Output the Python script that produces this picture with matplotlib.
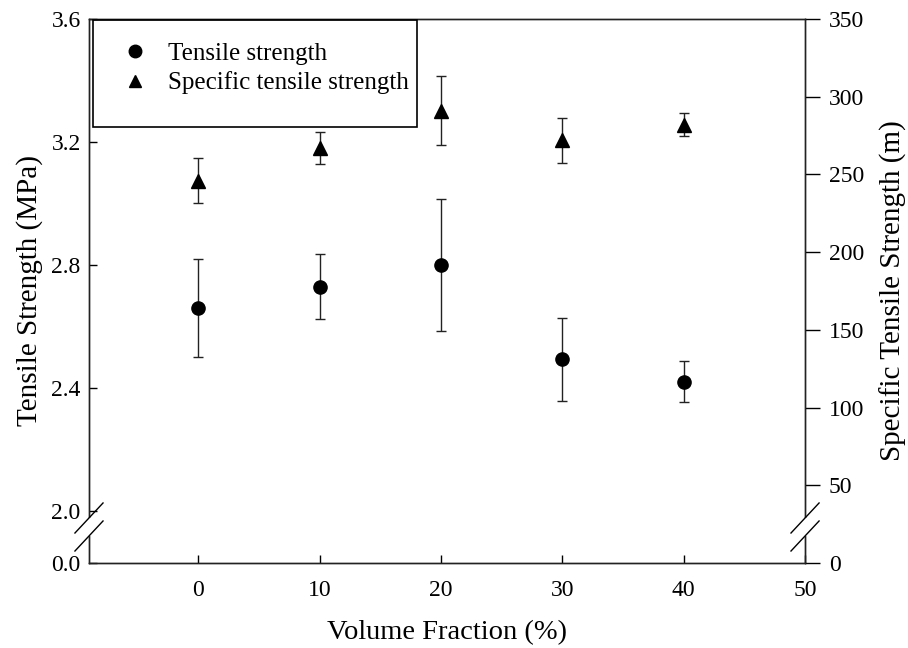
import matplotlib
matplotlib.use("Agg")
import matplotlib.pyplot as plt
from matplotlib.patches import Rectangle
from matplotlib.lines import Line2D

plt.rcParams['font.family'] = ['Liberation Serif', 'DejaVu Serif']

# data
volume_fraction = [0, 10, 20, 30, 40]
tensile = [2.66, 2.73, 2.80, 2.494, 2.42]          # MPa
tensile_err = [0.16, 0.105, 0.215, 0.135, 0.067]
specific = [246, 267, 291, 272, 282]                # m
specific_err = [14.5, 10, 22, 14.5, 7.5]

x_ticks = [0, 10, 20, 30, 40, 50]
left_ticks = [2.0, 2.4, 2.8, 3.2, 3.6]
right_ticks = [0, 50, 100, 150, 200, 250, 300, 350]

break_floor = 1.831  # where "0.0" sits on the broken left axis

fig = plt.figure(figsize=(9.08, 6.48), dpi=100)
ax = fig.add_axes([0.098, 0.1312, 0.7886, 0.8395])
ax2 = ax.twinx()

ax.errorbar(volume_fraction, tensile, yerr=tensile_err, fmt='o', color='black',
            ms=9.5, ecolor='#222222', elinewidth=1, capsize=3.6, capthick=1)
ax2.errorbar(volume_fraction, specific, yerr=specific_err, fmt='^', color='black',
             ms=9.5, ecolor='#222222', elinewidth=1, capsize=3.6, capthick=1)

ax.set_xlim(-9, 50)
ax.set_ylim(break_floor, 3.6)
ax2.set_ylim(0, 350)

ax.set_xticks(x_ticks)
ax.set_yticks([break_floor] + left_ticks)
ax.set_yticklabels(['0.0'] + ['%.1f' % t for t in left_ticks])
ax2.set_yticks(right_ticks)

ax.tick_params(axis='x', direction='in', length=6, width=1, labelsize=17, pad=12)
ax.tick_params(axis='y', direction='in', length=6, width=1, labelsize=17, pad=6)
ax2.tick_params(axis='y', direction='out', length=11, width=1, labelsize=17, pad=6)

for a in (ax, ax2):
    for s in a.spines.values():
        s.set_linewidth(1)
        s.set_color('#222222')

ax.set_xlabel('Volume Fraction (%)', fontsize=20.5, labelpad=14)
ax.set_ylabel('Tensile Strength (MPa)', fontsize=21, labelpad=6)
ax2.set_ylabel('Specific Tensile Strength (m)', fontsize=21, labelpad=11)

# axis break marks on both sides
y_lo, y_hi = 0.0496, 0.0827
dx, dy = 0.0196, 0.0276
for xs in (0, 1):
    ax2.plot([xs, xs], [y_lo + 0.004, y_hi - 0.004], transform=ax2.transAxes,
             color='white', lw=3, clip_on=False, zorder=10)
    for yc in (y_lo, y_hi):
        ax2.plot([xs - dx, xs + dx], [yc - dy, yc + dy], transform=ax2.transAxes,
                 color='black', lw=1, clip_on=False, zorder=11)

# legend box
ax2.add_patch(Rectangle((0.0056, 0.8015), 0.4525, 0.1965, transform=ax2.transAxes,
                        fill=False, edgecolor='black', lw=1.2, zorder=5))
handles = [Line2D([], [], ls='none', marker='o', color='black', ms=9),
           Line2D([], [], ls='none', marker='^', color='black', ms=9)]
ax2.legend(handles, ['Tensile strength', 'Specific tensile strength'],
           loc='upper left', bbox_to_anchor=(0.033, 0.975), frameon=False,
           fontsize=18, handletextpad=0.8, labelspacing=0.25,
           handlelength=1.0, borderaxespad=0)

fig.savefig('out.png', dpi=100)
